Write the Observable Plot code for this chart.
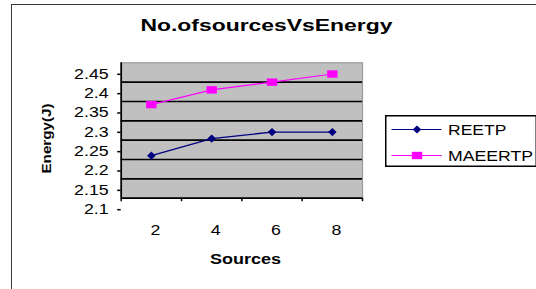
<!DOCTYPE html>
<html>
<head>
<meta charset="utf-8">
<script src="https://cdn.jsdelivr.net/npm/d3@7"></script>
<script src="https://cdn.jsdelivr.net/npm/@observablehq/plot@0.6"></script>
<style>
  html, body { margin: 0; padding: 0; background: #fff; }
  #wrap { position: relative; width: 536px; height: 289px; overflow: hidden; background: #fff; font-family: "Liberation Sans", Arial, sans-serif; }
  #border { position: absolute; left: 10.5px; top: 3.5px; width: 600px; height: 400px; border: 1.5px solid #3a3a3a; box-sizing: border-box; }
  #chart { position: absolute; left: 0; top: 0; }
  #legend { position: absolute; left: 385px; top: 114.5px; }
</style>
</head>
<body>
<div id="wrap">
  <div id="border"></div>
  <div id="chart"></div>
  <div id="legend"></div>
</div>
<script>
// ---- data ----
const sources = [2, 4, 6, 8];
const reetp = [2.21, 2.254, 2.271, 2.271];
const maeertp = [2.342, 2.38, 2.40, 2.421];
const seriesNames = ["REETP", "MAEERTP"];
const seriesColors = ["#000080", "#ff00ff"];
const yTicks = [2.1, 2.15, 2.2, 2.25, 2.3, 2.35, 2.4, 2.45];
const gridTicks = [2.15, 2.2, 2.25, 2.3, 2.35, 2.4];
const xBounds = [1, 3, 5, 7, 9];
const titleText = "No.ofsourcesVsEnergy";
const xTitle = "Sources";
const yTitle = "Energy(J)";

const rows = [];
sources.forEach((s, i) => {
  rows.push({source: s, value: reetp[i], series: seriesNames[0]});
  rows.push({source: s, value: maeertp[i], series: seriesNames[1]});
});
const rA = rows.filter(d => d.series === seriesNames[0]);
const rB = rows.filter(d => d.series === seriesNames[1]);

// marker shapes (slightly wider than tall, as in the original)
const diamondSym = {draw(ctx) { const w = 4.3, h = 4.1; ctx.moveTo(0, -h); ctx.lineTo(w, 0); ctx.lineTo(0, h); ctx.lineTo(-w, 0); ctx.closePath(); }};
const rectSym = {draw(ctx) { const w = 5.2, h = 3.7; ctx.moveTo(-w, -h); ctx.lineTo(w, -h); ctx.lineTo(w, h); ctx.lineTo(-w, h); ctx.closePath(); }};

const chart = Plot.plot({
  width: 536,
  height: 289,
  marginLeft: 120.7,
  marginRight: 174,
  marginTop: 62.3,
  marginBottom: 91.3,
  style: {fontFamily: "'Liberation Sans', Arial, sans-serif", background: "transparent", color: "black", overflow: "visible"},
  x: {domain: [1, 9]},
  y: {domain: [2.1, 2.45]},
  marks: [
    Plot.frame({fill: "#c0c0c0", stroke: "#9a9a9a", strokeWidth: 1.2}),
    Plot.ruleY(gridTicks, {stroke: "black", strokeWidth: 1.7}),
    Plot.ruleY([2.1], {stroke: "black", strokeWidth: 1.7}),
    Plot.ruleX([1], {stroke: "black", strokeWidth: 1.7}),
    Plot.axisY({ticks: yTicks, tickSize: 3.5, tickPadding: 9, dy: 11.5, fontSize: 14, strokeWidth: 1.5, label: null, tickFormat: d => String(d)}),
    Plot.axisX({ticks: xBounds, tickSize: 3.5, strokeWidth: 1.5, tickFormat: () => "", label: null}),
    Plot.axisX({ticks: sources, tickSize: 0, tickPadding: 27, dx: 4, fontSize: 14, label: null}),
    Plot.line(rA, {x: "source", y: "value", stroke: seriesColors[0], strokeWidth: 1.3}),
    Plot.line(rB, {x: "source", y: "value", stroke: seriesColors[1], strokeWidth: 1.2}),
    Plot.dot(rA, {x: "source", y: "value", symbol: diamondSym, fill: seriesColors[0], stroke: "none"}),
    Plot.dot(rB, {x: "source", y: "value", symbol: rectSym, fill: seriesColors[1], stroke: "none"}),
    Plot.text([titleText], {frameAnchor: "top", dx: 24.6, dy: -37.3, lineAnchor: "middle", fontSize: 16, fontWeight: "bold"}),
    Plot.text([xTitle], {frameAnchor: "bottom", dx: 3.7, dy: 61.6, lineAnchor: "middle", fontSize: 14, fontWeight: "bold"}),
    Plot.text([yTitle], {frameAnchor: "left", dx: -74.5, dy: 8, rotate: -90, lineAnchor: "middle", textAnchor: "middle", fontSize: 12.5, fontWeight: "bold"})
  ]
});
document.getElementById("chart").appendChild(chart);

// the original's text is horizontally stretched: widen glyphs with textLength
const fixedLen = new Map([[titleText, 252], [xTitle, 71], [yTitle, 70]]);
d3.select(chart).selectAll("text").each(function() {
  const t = this.textContent;
  const natural = this.getComputedTextLength();
  const target = fixedLen.has(t) ? fixedLen.get(t) : natural * 1.27;
  if (natural > 0) {
    this.setAttribute("textLength", target);
    this.setAttribute("lengthAdjust", "spacingAndGlyphs");
  }
});

// ---- legend ----
const lw = 152, lh = 52;
const leg = d3.select("#legend").append("svg").attr("width", lw).attr("height", lh);
leg.append("rect").attr("x", 0.75).attr("y", 0.75).attr("width", lw - 1.5).attr("height", lh - 1.5)
  .attr("fill", "white").attr("stroke", "black").attr("stroke-width", 1.5);
const rowsY = [14.5, 40.5];
const legLens = [58.4, 85];
seriesNames.forEach((name, i) => {
  const y = rowsY[i];
  leg.append("line").attr("x1", 6.5).attr("x2", 56.5).attr("y1", y).attr("y2", y)
    .attr("stroke", seriesColors[i]).attr("stroke-width", 1.2);
  const p = d3.path();
  (i === 0 ? diamondSym : rectSym).draw(p);
  leg.append("path").attr("d", p.toString()).attr("transform", `translate(32,${y})`).attr("fill", seriesColors[i]);
  leg.append("text").attr("x", 63).attr("y", y).attr("dy", "0.36em")
    .attr("font-size", 14.5).attr("font-family", "'Liberation Sans', Arial, sans-serif")
    .attr("textLength", legLens[i]).attr("lengthAdjust", "spacingAndGlyphs").text(name);
});
</script>
</body>
</html>
